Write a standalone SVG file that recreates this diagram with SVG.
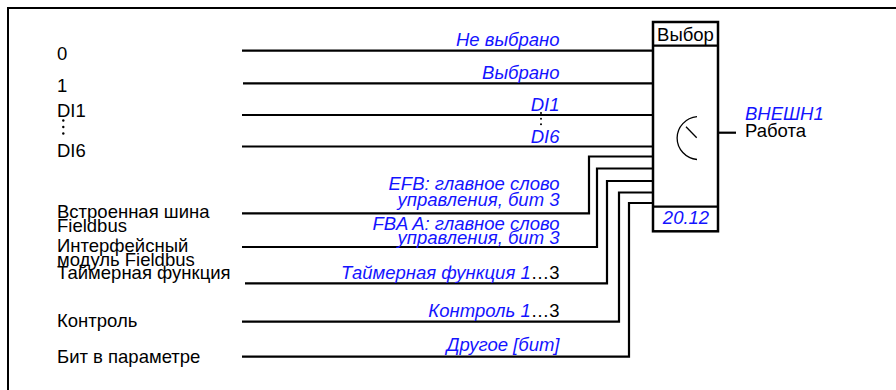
<svg xmlns="http://www.w3.org/2000/svg" width="896" height="390" viewBox="0 0 896 390">
<style>
.t{font-family:"Liberation Sans",Arial,sans-serif;font-size:18.5px;fill:#000}
.b{font-family:"Liberation Sans",Arial,sans-serif;font-size:18.5px;font-style:italic;fill:#1414ff}
.r{text-anchor:end}
.w{fill:none;stroke:#000;stroke-width:2.2}
.box{fill:#fff;stroke:#000;stroke-width:2.5}
.thin{fill:none;stroke:#000;stroke-width:1.3}
</style>
<rect width="896" height="390" fill="#fff"/>
<path d="M8,390 V8 H896" fill="none" stroke="#000" stroke-width="2"/>
<g id="inputs-labels">
<text class="t" x="57" y="60">0</text>
<text class="t" x="57" y="92">1</text>
<text class="t" x="57" y="117">DI1</text>
<g fill="#000"><circle cx="63.3" cy="120.5" r="1.2"/><circle cx="63.3" cy="127" r="1.2"/><circle cx="63.3" cy="133.5" r="1.2"/></g>
<text class="t" x="57" y="157">DI6</text>
<text class="t" x="57" y="218.3">Встроенная шина</text>
<text class="t" x="57" y="231.7">Fieldbus</text>
<text class="t" x="57" y="251.7">Интерфейсный</text>
<text class="t" x="57" y="265.7">модуль Fieldbus</text>
<text class="t" x="57" y="279">Таймерная функция</text>
<text class="t" x="57" y="326.7">Контроль</text>
<text class="t" x="57" y="363.3">Бит в параметре</text>
</g>
<g id="connectors">
<path class="w" d="M242,50.7 H653"/>
<path class="w" d="M243,83.3 H655"/>
<path class="w" d="M242,115 H653"/>
<path class="w" d="M242,146.5 H653"/>
<path class="w" d="M242,213.3 H589 V156.5 H653"/>
<path class="w" d="M242,247 H597 V168.5 H653"/>
<path class="w" d="M245,283.3 H607 V181 H653"/>
<path class="w" d="M242,321.7 H619 V192.5 H653"/>
<path class="w" d="M242,356.7 H629 V203 H653"/>
<path class="w" d="M718,132.7 H736"/>
</g>
<g id="connector-labels">
<text class="b r" x="559.5" y="46">Не выбрано</text>
<text class="b r" x="559.5" y="79.3">Выбрано</text>
<text class="b r" x="559.5" y="110.7">DI1</text>
<g fill="#000"><circle cx="541" cy="113" r="1"/><circle cx="541" cy="118.7" r="1"/><circle cx="541" cy="124.3" r="1"/></g>
<text class="b r" x="559.5" y="142.7">DI6</text>
<text class="b r" x="559.5" y="190">EFB: главное слово</text>
<text class="b r" x="559.5" y="206">управления, бит 3</text>
<text class="b r" x="559.5" y="230">FBA A: главное слово</text>
<text class="b r" x="559.5" y="244.3">управления, бит 3</text>
<text class="r" x="559.5" y="279"><tspan class="b">Таймерная функция 1</tspan><tspan class="t">…3</tspan></text>
<text class="r" x="559.5" y="317.3"><tspan class="b">Контроль 1</tspan><tspan class="t">…3</tspan></text>
<text class="b r" x="559.5" y="350.7">Другое [бит]</text>
</g>
<g id="selector">
<rect class="box" x="653" y="22" width="65" height="209.3"/>
<path class="w" d="M653,45.7 H718 M653,206.7 H718" stroke-width="2.5"/>
<text class="t" x="685.5" y="40.7" text-anchor="middle">Выбор</text>
<text class="b" x="686" y="224" text-anchor="middle">20.12</text>
<path class="thin" d="M697,116.7 A22,21.5 0 0 0 697,159.5"/>
<path class="thin" d="M686,126.7 L696.7,137.7"/>
</g>
<g id="output">
<text class="b" x="745" y="120">ВНЕШН1</text>
<text class="t" x="745" y="136.7">Работа</text>
</g>
</svg>
